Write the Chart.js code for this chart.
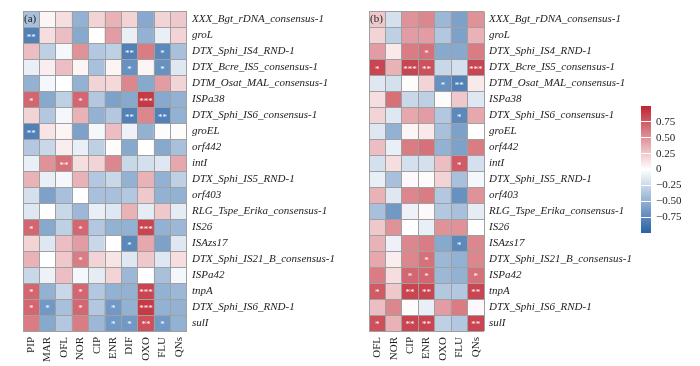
<!DOCTYPE html>
<html>
<head>
<meta charset="utf-8">
<script src="https://cdn.jsdelivr.net/npm/chart.js@4.4.0/dist/chart.umd.min.js"></script>
<style>
  body { margin: 0; background: #fff; }
  canvas { position: absolute; top: 0; }
</style>
</head>
<body>
<canvas id="panelA" width="370" height="366" style="left:0px"></canvas>
<canvas id="panelB" width="294" height="366" style="left:346px"></canvas>
<canvas id="colorBar" width="70" height="366" style="left:630px"></canvas>
<script>
// row labels (genes / MGEs), top to bottom
const genes = [
  "XXX_Bgt_rDNA_consensus-1", "groL", "DTX_Sphi_IS4_RND-1", "DTX_Bcre_IS5_consensus-1",
  "DTM_Osat_MAL_consensus-1", "ISPa38", "DTX_Sphi_IS6_consensus-1", "groEL", "orf442", "intI",
  "DTX_Sphi_IS5_RND-1", "orf403", "RLG_Tspe_Erika_consensus-1", "IS26", "ISAzs17",
  "DTX_Sphi_IS21_B_consensus-1", "ISPa42", "tnpA", "DTX_Sphi_IS6_RND-1", "sulI"
];
const drugsA = ["PIP", "MAR", "OFL", "NOR", "CIP", "ENR", "DIF", "OXO", "FLU", "QNs"];
const drugsB = ["OFL", "NOR", "CIP", "ENR", "OXO", "FLU", "QNs"];

// correlation values, one row per gene
const corrA = [
  [-0.40, 0.05, 0.15, -0.50, 0.20, 0.35, 0.20, -0.55, 0.20, 0.25],
  [-0.80, 0.15, 0.30, -0.55, 0.00, 0.45, -0.10, -0.50, -0.10, 0.20],
  [0.30, -0.30, -0.05, 0.50, -0.35, -0.30, -0.80, 0.60, -0.75, -0.40],
  [-0.10, 0.08, 0.30, 0.05, -0.40, 0.05, -0.70, 0.05, -0.70, -0.15],
  [-0.50, -0.05, 0.00, -0.50, 0.20, 0.18, 0.55, -0.55, 0.45, 0.20],
  [0.70, -0.55, -0.30, 0.70, -0.35, -0.60, -0.55, 0.90, -0.55, -0.50],
  [0.20, -0.35, -0.05, 0.35, -0.50, -0.35, -0.80, 0.55, -0.80, -0.50],
  [-0.80, 0.12, 0.05, -0.60, -0.05, 0.30, -0.08, -0.50, -0.02, 0.02],
  [-0.35, -0.25, 0.08, -0.10, -0.30, 0.02, -0.55, 0.00, -0.55, -0.40],
  [-0.10, 0.50, 0.65, 0.15, 0.20, 0.55, -0.25, -0.20, -0.15, 0.40],
  [0.35, -0.10, -0.05, 0.35, -0.35, -0.25, -0.50, 0.35, -0.50, -0.30],
  [-0.20, -0.60, -0.40, 0.00, -0.40, -0.40, -0.35, 0.25, -0.50, -0.50],
  [-0.15, 0.00, -0.25, -0.45, -0.10, -0.15, 0.35, -0.12, 0.25, -0.12],
  [0.70, -0.55, -0.30, 0.70, -0.35, -0.50, -0.50, 0.85, -0.50, -0.45],
  [0.20, -0.15, 0.30, 0.45, -0.25, 0.00, -0.75, 0.40, -0.60, -0.15],
  [0.35, 0.00, 0.25, 0.60, 0.20, 0.12, -0.15, 0.25, -0.15, 0.15],
  [-0.25, -0.08, 0.30, -0.05, -0.12, 0.20, -0.45, 0.00, -0.40, -0.05],
  [0.70, -0.50, -0.25, 0.70, -0.35, -0.50, -0.50, 0.85, -0.50, -0.45],
  [0.70, -0.65, -0.40, 0.70, -0.35, -0.65, -0.50, 0.90, -0.50, -0.50],
  [0.60, -0.55, -0.35, 0.60, -0.45, -0.65, -0.65, 0.80, -0.65, -0.50]
];
const corrB = [
  [0.25, -0.20, 0.50, 0.55, -0.45, -0.60, 0.50],
  [0.20, -0.30, 0.45, 0.45, -0.35, -0.60, 0.35],
  [0.45, 0.10, 0.60, 0.65, -0.55, -0.55, 0.60],
  [0.85, 0.35, 0.85, 0.80, -0.25, -0.20, 0.85],
  [-0.15, -0.20, 0.02, 0.20, -0.70, -0.80, 0.10],
  [0.15, 0.65, -0.25, -0.30, 0.02, 0.25, -0.15],
  [0.20, -0.15, 0.40, 0.45, -0.35, -0.75, 0.40],
  [-0.15, -0.50, 0.05, 0.10, -0.40, -0.60, 0.00],
  [0.30, -0.10, 0.60, 0.65, -0.50, -0.60, 0.60],
  [-0.20, 0.15, -0.20, -0.20, 0.30, 0.75, -0.20],
  [-0.10, -0.40, 0.03, 0.02, 0.20, -0.40, -0.05],
  [0.35, -0.15, 0.55, 0.60, -0.35, -0.70, 0.50],
  [-0.40, -0.65, -0.08, 0.03, -0.35, -0.40, -0.12],
  [0.25, 0.50, 0.00, -0.10, 0.50, 0.50, 0.00],
  [0.35, -0.08, 0.55, 0.60, -0.55, -0.75, 0.55],
  [0.40, 0.08, 0.55, 0.65, -0.45, -0.50, 0.55],
  [0.60, 0.15, 0.70, 0.70, -0.45, -0.50, 0.65],
  [0.75, 0.25, 0.85, 0.85, -0.35, -0.35, 0.85],
  [0.30, 0.55, 0.02, -0.10, 0.45, 0.60, 0.03],
  [0.80, 0.35, 0.85, 0.85, -0.30, -0.35, 0.85]
];

// significance marks: [row, column, mark]
const sigA = [
  [1, 0, "**"], [2, 6, "**"], [2, 8, "*"], [3, 6, "*"], [3, 8, "*"],
  [5, 0, "*"], [5, 3, "*"], [5, 7, "***"], [6, 6, "**"], [6, 8, "**"],
  [7, 0, "**"], [9, 2, "**"], [13, 0, "*"], [13, 3, "*"], [13, 7, "***"],
  [14, 6, "*"], [15, 3, "*"], [17, 0, "*"], [17, 3, "*"], [17, 7, "***"],
  [18, 0, "*"], [18, 1, "*"], [18, 3, "*"], [18, 5, "*"], [18, 7, "***"],
  [19, 5, "*"], [19, 6, "*"], [19, 7, "**"], [19, 8, "*"]
];
const sigB = [
  [2, 3, "*"], [3, 0, "*"], [3, 2, "***"], [3, 3, "**"], [3, 6, "***"],
  [4, 4, "*"], [4, 5, "**"], [6, 5, "*"], [9, 5, "*"], [14, 5, "*"],
  [15, 3, "*"], [16, 2, "*"], [16, 3, "*"], [16, 6, "*"],
  [17, 0, "*"], [17, 2, "**"], [17, 3, "**"], [17, 6, "**"],
  [19, 0, "*"], [19, 2, "**"], [19, 3, "**"], [19, 6, "**"]
];

const colorTicks = [-0.75, -0.5, -0.25, 0, 0.25, 0.5, 0.75];

const SERIF = '"Liberation Serif", "Times New Roman", serif';
const LOW = [38, 98, 165], MID = [255, 255, 255], HIGH = [192, 36, 50];
const LINE = "rgb(160,160,160)";

function colorOf(v) {
  const t = Math.min(1, Math.abs(v));
  const end = v < 0 ? LOW : HIGH;
  const c = MID.map((m, i) => Math.round(m + (end[i] - m) * t));
  return `rgb(${c.join(",")})`;
}

// white stars + panel tag on top of the cells
const markPlugin = {
  id: "marks",
  afterDatasetsDraw(chart, args, opts) {
    const ctx = chart.ctx;
    ctx.save();
    ctx.fillStyle = "#fff";
    ctx.font = "9px " + SERIF;
    ctx.textAlign = "center";
    ctx.textBaseline = "middle";
    opts.sig.forEach(([r, c, m]) => {
      const p = chart.getDatasetMeta(r).data[c].getCenterPoint();
      ctx.fillText(m, p.x, p.y + 2);
    });
    ctx.fillStyle = "#222";
    ctx.font = "11px " + SERIF;
    ctx.textAlign = "left";
    ctx.fillText(opts.tag, chart.chartArea.left + 1, chart.chartArea.top + 8);
    ctx.restore();
  }
};

function heatmap(id, drugs, corr, sig, tag, labelWidth) {
  const datasets = corr.map((row, i) => ({
    label: genes[i],
    data: drugs.map(() => 1),
    backgroundColor: row.map(colorOf),
    borderWidth: 0,
    barPercentage: 1,
    categoryPercentage: 1
  }));
  return new Chart(document.getElementById(id), {
    type: "bar",
    data: { labels: drugs, datasets },
    options: {
      responsive: false,
      devicePixelRatio: 1,
      animation: false,
      layout: { padding: { left: 23, top: 9, right: 0, bottom: 0 } },
      plugins: {
        legend: { display: false },
        tooltip: { enabled: false },
        marks: { sig, tag }
      },
      scales: {
        x: {
          stacked: true,
          grid: { color: LINE, z: 1, drawTicks: false },
          border: { display: false },
          ticks: {
            autoSkip: false, minRotation: 90, maxRotation: 90, padding: 6,
            color: "#222", font: { family: SERIF, size: 11 }
          },
          afterFit: (s) => { s.height = 35; }
        },
        y: {
          stacked: true, reverse: true, min: 0, max: 20,
          grid: { color: LINE, z: 1, drawTicks: false },
          border: { display: false },
          ticks: { display: false, stepSize: 1 },
          afterFit: (s) => { s.width = 0; }
        },
        y2: {
          type: "category", labels: genes, position: "right", offset: true,
          grid: { display: false, drawTicks: false },
          border: { display: false },
          ticks: {
            autoSkip: false, padding: 5, color: "#222",
            font: { family: SERIF, size: 11, style: "italic" }
          },
          afterFit: (s) => { s.width = labelWidth; }
        }
      }
    },
    plugins: [markPlugin]
  });
}

heatmap("panelA", drugsA, corrA, sigA, "(a)", 183);
heatmap("panelB", drugsB, corrB, sigB, "(b)", 156);

// colour key
new Chart(document.getElementById("colorBar"), {
  type: "bar",
  data: {
    labels: ["r"],
    datasets: [{
      data: [[-1, 1]],
      borderWidth: 0,
      barPercentage: 1,
      categoryPercentage: 1,
      backgroundColor: (c) => {
        const area = c.chart.chartArea;
        if (!area) return "#fff";
        const g = c.chart.ctx.createLinearGradient(0, area.bottom, 0, area.top);
        g.addColorStop(0, `rgb(${LOW.join(",")})`);
        g.addColorStop(0.5, `rgb(${MID.join(",")})`);
        g.addColorStop(1, `rgb(${HIGH.join(",")})`);
        return g;
      }
    }]
  },
  options: {
    responsive: false,
    devicePixelRatio: 1,
    animation: false,
    layout: { padding: { left: 11, top: 106, right: 0, bottom: 133 } },
    plugins: { legend: { display: false }, tooltip: { enabled: false } },
    scales: {
      x: { display: false },
      y: {
        position: "right", min: -1, max: 1,
        afterBuildTicks: (s) => { s.ticks = colorTicks.map((v) => ({ value: v })); },
        grid: { z: 1, color: "#fff", drawTicks: false, borderDash: [2, 6] },
        border: { display: false },
        ticks: {
          padding: 5, color: "#222", font: { family: SERIF, size: 11 },
          callback: (v) => v === 0 ? "0" : (v < 0 ? "\u2212" : "") + Math.abs(v).toFixed(2)
        },
        afterFit: (s) => { s.width = 49; }
      }
    }
  }
});
</script>
</body>
</html>
